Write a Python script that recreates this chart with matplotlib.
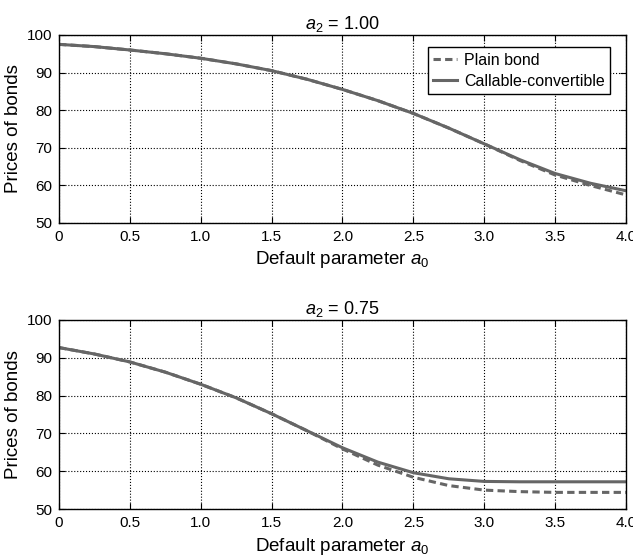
import matplotlib.pyplot as plt

# default parameter a0 grid
a0 = [0.0, 0.25, 0.5, 0.75, 1.0, 1.25, 1.5, 1.75, 2.0, 2.25, 2.5, 2.75, 3.0, 3.25, 3.5, 3.75, 4.0]

# a2 = 1.00
plain_100 = [97.5, 96.9, 96.0, 95.0, 93.8, 92.3, 90.5, 88.2, 85.5, 82.5, 79.1, 75.2, 71.0, 66.6, 62.7, 59.9, 57.4]
callable_100 = [97.5, 96.9, 96.0, 95.0, 93.8, 92.3, 90.5, 88.2, 85.5, 82.5, 79.1, 75.2, 71.0, 66.8, 63.1, 60.5, 58.5]

# a2 = 0.75
plain_075 = [92.7, 91.0, 88.9, 86.2, 83.0, 79.4, 75.2, 70.7, 65.9, 61.6, 58.4, 56.2, 55.0, 54.6, 54.4, 54.4, 54.4]
callable_075 = [92.7, 91.0, 88.9, 86.2, 83.0, 79.4, 75.2, 70.7, 66.2, 62.4, 59.6, 58.0, 57.3, 57.2, 57.2, 57.2, 57.2]

titles = ["$a_2$ = 1.00", "$a_2$ = 0.75"]
xticks = [0, 0.5, 1.0, 1.5, 2.0, 2.5, 3.0, 3.5, 4.0]
xticklabels = ["0", "0.5", "1.0", "1.5", "2.0", "2.5", "3.0", "3.5", "4.0"]
yticks = [50, 60, 70, 80, 90, 100]

plt.rcParams["font.family"] = ["Liberation Sans", "DejaVu Sans"]
plt.rcParams["mathtext.fontset"] = "custom"
plt.rcParams["mathtext.it"] = "Liberation Sans:italic"
plt.rcParams["mathtext.rm"] = "Liberation Sans"

line_color = "#666666"
dash = (0, (2.4, 1.4))

fig = plt.figure(figsize=(6.33, 5.56), dpi=100)
ax1 = fig.add_axes([0.0932, 0.5995, 0.8957, 0.3376])
ax2 = fig.add_axes([0.0932, 0.0845, 0.8957, 0.3400])

series = [(plain_100, callable_100), (plain_075, callable_075)]

for ax, title, (plain, callable_) in zip([ax1, ax2], titles, series):
    ax.plot(a0, plain, color=line_color, lw=2.2, ls=dash, label="Plain bond")
    ax.plot(a0, callable_, color=line_color, lw=2.2, label="Callable-convertible")
    ax.set_xlim(0, 4)
    ax.set_ylim(50, 100)
    ax.set_xticks(xticks)
    ax.set_xticklabels(xticklabels)
    ax.set_yticks(yticks)
    ax.grid(True, color="black", ls=":", lw=0.8)
    ax.tick_params(direction="in", top=True, right=True, labelsize=11, length=4, pad=5)
    for s in ax.spines.values():
        s.set_linewidth(1.0)
    ax.set_title(title, fontsize=13, pad=4)
    ax.set_xlabel("Default parameter $a_0$", fontsize=13.5, labelpad=4)
    ax.set_ylabel("Prices of bonds", fontsize=13.5, labelpad=3)

leg = ax1.legend(loc="upper right", bbox_to_anchor=(0.972, 0.934), borderaxespad=0,
                 fancybox=False, edgecolor="black", fontsize=11.5, handlelength=1.5,
                 handletextpad=0.4, borderpad=0.35, labelspacing=0.35, framealpha=1)
leg.get_frame().set_linewidth(1.0)

fig.savefig("out.png", dpi=100)
plt.close(fig)
